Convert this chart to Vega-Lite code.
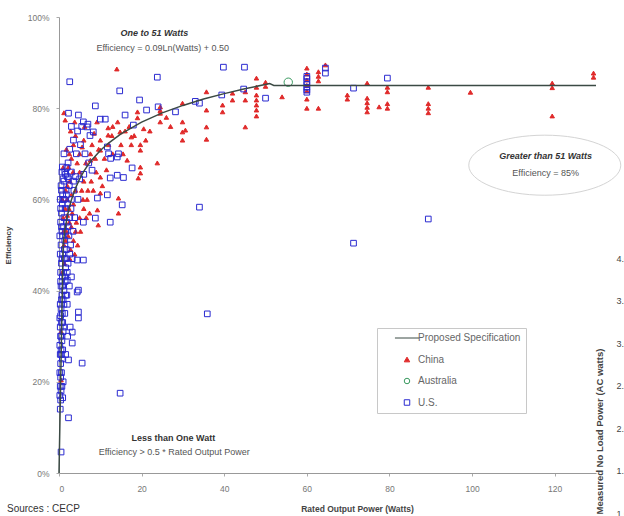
{
"$schema":"https://vega.github.io/schema/vega-lite/v6.json",
"width":537,"height":456,
"autosize":{"type":"none"},
"padding":{"left":59,"top":17,"right":28,"bottom":43},
"background":"white",
"config":{"view":{"stroke":null},"font":"Liberation Sans","axis":{"grid":false},
 "legend":{"title":null,"orient":"none","legendX":318,"legendY":311,"strokeColor":"#c8c8c8","padding":5,"rowPadding":11.5,"symbolSize":30,"symbolOffset":20,"labelOffset":6,"labelFontSize":10,"labelColor":"#666","symbolStrokeWidth":1}},
"title":{"text":"Sources : CECP","orient":"bottom","anchor":"start","frame":"group","dx":-52,"offset":-14,"fontSize":10,"fontWeight":"normal","color":"#333"},
"datasets":{
"spec":[
{"series":"Proposed Specification","power":0,"eff":0},
{"series":"Proposed Specification","power":1,"eff":0.5},
{"series":"Proposed Specification","power":1.25,"eff":0.5201},
{"series":"Proposed Specification","power":1.5,"eff":0.5365},
{"series":"Proposed Specification","power":2,"eff":0.5624},
{"series":"Proposed Specification","power":2.5,"eff":0.5825},
{"series":"Proposed Specification","power":3,"eff":0.5989},
{"series":"Proposed Specification","power":4,"eff":0.6248},
{"series":"Proposed Specification","power":5,"eff":0.6448},
{"series":"Proposed Specification","power":6,"eff":0.6613},
{"series":"Proposed Specification","power":7,"eff":0.6751},
{"series":"Proposed Specification","power":8,"eff":0.6871},
{"series":"Proposed Specification","power":10,"eff":0.7072},
{"series":"Proposed Specification","power":12,"eff":0.7236},
{"series":"Proposed Specification","power":15,"eff":0.7437},
{"series":"Proposed Specification","power":20,"eff":0.7696},
{"series":"Proposed Specification","power":25,"eff":0.7897},
{"series":"Proposed Specification","power":30,"eff":0.8061},
{"series":"Proposed Specification","power":35,"eff":0.82},
{"series":"Proposed Specification","power":40,"eff":0.832},
{"series":"Proposed Specification","power":45,"eff":0.8426},
{"series":"Proposed Specification","power":51,"eff":0.8539},
{"series":"Proposed Specification","power":52,"eff":0.85},
{"series":"Proposed Specification","power":130,"eff":0.85}
],
"pts":[
{"series":"China","power":60,"eff":0.888},{"series":"China","power":60,"eff":0.875},{"series":"China","power":60,"eff":0.862},{"series":"China","power":60,"eff":0.85},{"series":"China","power":60,"eff":0.838},{"series":"China","power":60,"eff":0.82},{"series":"China","power":60,"eff":0.8},
{"series":"China","power":62.8,"eff":0.88},{"series":"China","power":62.8,"eff":0.87},{"series":"China","power":62.8,"eff":0.86},{"series":"China","power":62.8,"eff":0.8},
{"series":"China","power":64.5,"eff":0.895},
{"series":"China","power":69.8,"eff":0.829},{"series":"China","power":69.8,"eff":0.82},
{"series":"China","power":74.6,"eff":0.855},{"series":"China","power":74.6,"eff":0.822},{"series":"China","power":74.6,"eff":0.812},{"series":"China","power":74.6,"eff":0.802},{"series":"China","power":74.6,"eff":0.792},
{"series":"China","power":77.5,"eff":0.803},
{"series":"China","power":79.5,"eff":0.846},{"series":"China","power":79.5,"eff":0.836},{"series":"China","power":79.5,"eff":0.81},{"series":"China","power":79.5,"eff":0.8},
{"series":"China","power":89.4,"eff":0.846},{"series":"China","power":89.4,"eff":0.81},{"series":"China","power":89.4,"eff":0.8},{"series":"China","power":89.4,"eff":0.79},
{"series":"China","power":99.6,"eff":0.835},
{"series":"China","power":119.4,"eff":0.855},{"series":"China","power":119.4,"eff":0.845},{"series":"China","power":119.4,"eff":0.783},
{"series":"China","power":129.4,"eff":0.877},{"series":"China","power":129.4,"eff":0.868},
{"series":"China","power":54,"eff":0.825},
{"series":"China","power":50,"eff":0.857},{"series":"China","power":50,"eff":0.848},
{"series":"China","power":47.8,"eff":0.866},{"series":"China","power":47.8,"eff":0.846},{"series":"China","power":47.8,"eff":0.829},{"series":"China","power":47.8,"eff":0.818},{"series":"China","power":47.8,"eff":0.807},{"series":"China","power":47.8,"eff":0.796},{"series":"China","power":47.8,"eff":0.783},
{"series":"China","power":45.1,"eff":0.836},{"series":"China","power":45.1,"eff":0.818},{"series":"China","power":45.1,"eff":0.759},
{"series":"China","power":42,"eff":0.833},{"series":"China","power":42,"eff":0.818},
{"series":"China","power":39.6,"eff":0.807},{"series":"China","power":39.6,"eff":0.792},
{"series":"China","power":35.7,"eff":0.836},{"series":"China","power":35.7,"eff":0.796},{"series":"China","power":35.7,"eff":0.759},{"series":"China","power":35.7,"eff":0.732},
{"series":"China","power":29.9,"eff":0.811},{"series":"China","power":29.9,"eff":0.77},{"series":"China","power":29.9,"eff":0.748},{"series":"China","power":29.9,"eff":0.73},{"series":"China","power":30.6,"eff":0.752},
{"series":"China","power":24.5,"eff":0.803},{"series":"China","power":24.5,"eff":0.795},{"series":"China","power":24.5,"eff":0.789},{"series":"China","power":24.5,"eff":0.77},
{"series":"China","power":23.8,"eff":0.68},{"series":"China","power":14,"eff":0.886},{"series":"China","power":19,"eff":0.792},{"series":"China","power":19,"eff":0.779},{"series":"China","power":1.5,"eff":0.774},{"series":"China","power":1.2,"eff":0.79},
{"series":"China","power":11.9,"eff":0.757},{"series":"China","power":11.9,"eff":0.741},{"series":"China","power":14.8,"eff":0.748},{"series":"China","power":17.5,"eff":0.737},{"series":"China","power":17.5,"eff":0.72},
{"series":"China","power":3.5,"eff":0.72},{"series":"China","power":5.6,"eff":0.715},{"series":"China","power":10,"eff":0.73},{"series":"China","power":10,"eff":0.708},
{"series":"China","power":19.7,"eff":0.72},{"series":"China","power":19.7,"eff":0.708},{"series":"China","power":19.7,"eff":0.671},{"series":"China","power":19.7,"eff":0.658},
{"series":"China","power":7.6,"eff":0.7},{"series":"China","power":7.6,"eff":0.686},{"series":"China","power":2.3,"eff":0.671},{"series":"China","power":16.5,"eff":0.686},{"series":"China","power":10,"eff":0.649},{"series":"China","power":19.2,"eff":0.647},
{"series":"China","power":9.3,"eff":0.577},{"series":"China","power":14.4,"eff":0.57},{"series":"China","power":14.4,"eff":0.603},{"series":"China","power":10,"eff":0.614},{"series":"China","power":8.3,"eff":0.62},{"series":"China","power":9.5,"eff":0.544},
{"series":"China","power":1.5,"eff":0.58},{"series":"China","power":2,"eff":0.565},{"series":"China","power":2.5,"eff":0.55},{"series":"China","power":3,"eff":0.54},{"series":"China","power":1.8,"eff":0.53},{"series":"China","power":2.2,"eff":0.52},{"series":"China","power":3.5,"eff":0.51},{"series":"China","power":1.2,"eff":0.5},{"series":"China","power":2.8,"eff":0.49},{"series":"China","power":4,"eff":0.53},{"series":"China","power":5,"eff":0.56},{"series":"China","power":4.5,"eff":0.5},{"series":"China","power":1,"eff":0.56},{"series":"China","power":2,"eff":0.6},{"series":"China","power":3,"eff":0.61},{"series":"China","power":6,"eff":0.58},
{"series":"China","power":4,"eff":0.74},{"series":"China","power":6,"eff":0.73},{"series":"China","power":8,"eff":0.72},{"series":"China","power":3,"eff":0.69},{"series":"China","power":5,"eff":0.66},{"series":"China","power":6.5,"eff":0.68},{"series":"China","power":9,"eff":0.66},{"series":"China","power":11,"eff":0.69},{"series":"China","power":12,"eff":0.72},{"series":"China","power":13,"eff":0.7},{"series":"China","power":2,"eff":0.63},{"series":"China","power":4,"eff":0.62},{"series":"China","power":6,"eff":0.64},{"series":"China","power":7,"eff":0.62},{"series":"China","power":10.5,"eff":0.63},{"series":"China","power":1,"eff":0.67},{"series":"China","power":16,"eff":0.75},{"series":"China","power":21,"eff":0.73},{"series":"China","power":22,"eff":0.75},{"series":"China","power":13,"eff":0.76},{"series":"China","power":26,"eff":0.78},{"series":"China","power":27,"eff":0.76},
{"series":"China","power":0.5,"eff":0.31},{"series":"China","power":0.5,"eff":0.204},{"series":"China","power":0.8,"eff":0.44},{"series":"China","power":1.3,"eff":0.46},{"series":"China","power":3.5,"eff":0.59},{"series":"China","power":2.5,"eff":0.7},{"series":"China","power":5,"eff":0.7},{"series":"China","power":8.5,"eff":0.745},{"series":"China","power":15,"eff":0.72},
{"series":"China","power":1.6,"eff":0.62},{"series":"China","power":2.6,"eff":0.64},{"series":"China","power":3.4,"eff":0.66},{"series":"China","power":4.4,"eff":0.68},{"series":"China","power":5.5,"eff":0.62},{"series":"China","power":6.8,"eff":0.6},{"series":"China","power":7.8,"eff":0.64},{"series":"China","power":8.8,"eff":0.69},{"series":"China","power":9.6,"eff":0.71},{"series":"China","power":11.5,"eff":0.665},{"series":"China","power":12.8,"eff":0.74},{"series":"China","power":14.2,"eff":0.77},{"series":"China","power":15.5,"eff":0.7},{"series":"China","power":17,"eff":0.76},{"series":"China","power":18.2,"eff":0.74},{"series":"China","power":20.5,"eff":0.755},{"series":"China","power":2.4,"eff":0.58},{"series":"China","power":3.2,"eff":0.57},{"series":"China","power":4.2,"eff":0.55},{"series":"China","power":5.2,"eff":0.53},{"series":"China","power":1.6,"eff":0.51},{"series":"China","power":2.6,"eff":0.47},{"series":"China","power":3.8,"eff":0.48},{"series":"China","power":5.8,"eff":0.6},{"series":"China","power":6.6,"eff":0.56},{"series":"China","power":7.4,"eff":0.57},{"series":"China","power":2.8,"eff":0.75},{"series":"China","power":3.8,"eff":0.77},{"series":"China","power":6.2,"eff":0.76},{"series":"China","power":9.2,"eff":0.77},{"series":"China","power":1.8,"eff":0.71},{"series":"China","power":0.8,"eff":0.6},{"series":"China","power":1.1,"eff":0.53},
{"series":"Australia","power":55.5,"eff":0.857},
{"series":"U.S.","power":60,"eff":0.87},{"series":"U.S.","power":60,"eff":0.865},{"series":"U.S.","power":60,"eff":0.858},{"series":"U.S.","power":60,"eff":0.852},{"series":"U.S.","power":60,"eff":0.846},{"series":"U.S.","power":60,"eff":0.84},{"series":"U.S.","power":60,"eff":0.835},
{"series":"U.S.","power":64.5,"eff":0.888},{"series":"U.S.","power":64.5,"eff":0.877},{"series":"U.S.","power":71.3,"eff":0.844},{"series":"U.S.","power":79.5,"eff":0.866},{"series":"U.S.","power":71.3,"eff":0.504},{"series":"U.S.","power":89.4,"eff":0.557},
{"series":"U.S.","power":39.8,"eff":0.89},{"series":"U.S.","power":44.9,"eff":0.89},{"series":"U.S.","power":23.8,"eff":0.868},{"series":"U.S.","power":50,"eff":0.822},{"series":"U.S.","power":44.7,"eff":0.842},{"series":"U.S.","power":39.4,"eff":0.829},{"series":"U.S.","power":34,"eff":0.811},{"series":"U.S.","power":33,"eff":0.815},{"series":"U.S.","power":28.2,"eff":0.792},{"series":"U.S.","power":24,"eff":0.803},{"series":"U.S.","power":34,"eff":0.583},{"series":"U.S.","power":35.9,"eff":0.349},{"series":"U.S.","power":14.8,"eff":0.175},
{"series":"U.S.","power":2.6,"eff":0.858},{"series":"U.S.","power":14.7,"eff":0.838},{"series":"U.S.","power":8.8,"eff":0.805},{"series":"U.S.","power":19.5,"eff":0.818},{"series":"U.S.","power":16,"eff":0.785},{"series":"U.S.","power":2.3,"eff":0.789},{"series":"U.S.","power":4.7,"eff":0.785},{"series":"U.S.","power":21.2,"eff":0.796},{"series":"U.S.","power":5.9,"eff":0.77},{"series":"U.S.","power":6.8,"eff":0.759},{"series":"U.S.","power":10,"eff":0.776},{"series":"U.S.","power":11.2,"eff":0.776},{"series":"U.S.","power":18,"eff":0.763},{"series":"U.S.","power":8.3,"eff":0.748},{"series":"U.S.","power":12,"eff":0.7},{"series":"U.S.","power":12.5,"eff":0.69},{"series":"U.S.","power":14.1,"eff":0.693},{"series":"U.S.","power":0.8,"eff":0.671},{"series":"U.S.","power":17.7,"eff":0.669},{"series":"U.S.","power":8,"eff":0.664},{"series":"U.S.","power":12.4,"eff":0.647},{"series":"U.S.","power":14.1,"eff":0.653},{"series":"U.S.","power":15.6,"eff":0.648},{"series":"U.S.","power":11.7,"eff":0.715},{"series":"U.S.","power":14.4,"eff":0.7},
{"series":"U.S.","power":3,"eff":0.66},{"series":"U.S.","power":4,"eff":0.65},{"series":"U.S.","power":5,"eff":0.645},{"series":"U.S.","power":6,"eff":0.655},{"series":"U.S.","power":3.5,"eff":0.64},
{"series":"U.S.","power":12.4,"eff":0.55},{"series":"U.S.","power":8.8,"eff":0.559},{"series":"U.S.","power":15.3,"eff":0.588},{"series":"U.S.","power":11.7,"eff":0.61},{"series":"U.S.","power":9.3,"eff":0.603},{"series":"U.S.","power":5.9,"eff":0.55},{"series":"U.S.","power":5.9,"eff":0.467},{"series":"U.S.","power":4.4,"eff":0.467},{"series":"U.S.","power":4.7,"eff":0.401},{"series":"U.S.","power":2,"eff":0.423},{"series":"U.S.","power":4.4,"eff":0.397},
{"series":"U.S.","power":4.7,"eff":0.353},{"series":"U.S.","power":4.7,"eff":0.34},{"series":"U.S.","power":2.7,"eff":0.32},{"series":"U.S.","power":3.2,"eff":0.309},{"series":"U.S.","power":3.2,"eff":0.285},{"series":"U.S.","power":2.3,"eff":0.248},{"series":"U.S.","power":5.6,"eff":0.241},{"series":"U.S.","power":2.3,"eff":0.121},{"series":"U.S.","power":0.5,"eff":0.046},
{"series":"U.S.","power":0.3,"eff":0.14},{"series":"U.S.","power":0.4,"eff":0.16},{"series":"U.S.","power":0.2,"eff":0.17},{"series":"U.S.","power":0.5,"eff":0.18},{"series":"U.S.","power":0.3,"eff":0.19},{"series":"U.S.","power":0.6,"eff":0.22},{"series":"U.S.","power":0.4,"eff":0.24},{"series":"U.S.","power":0.3,"eff":0.26},{"series":"U.S.","power":0.5,"eff":0.27},{"series":"U.S.","power":0.7,"eff":0.29},{"series":"U.S.","power":0.4,"eff":0.3},{"series":"U.S.","power":0.3,"eff":0.32},{"series":"U.S.","power":0.6,"eff":0.33},{"series":"U.S.","power":0.8,"eff":0.35},{"series":"U.S.","power":0.5,"eff":0.36},{"series":"U.S.","power":0.3,"eff":0.37},{"series":"U.S.","power":1,"eff":0.38},{"series":"U.S.","power":0.7,"eff":0.39},{"series":"U.S.","power":1.2,"eff":0.4},{"series":"U.S.","power":0.5,"eff":0.41},{"series":"U.S.","power":1.5,"eff":0.42},{"series":"U.S.","power":0.8,"eff":0.43},{"series":"U.S.","power":1.1,"eff":0.44},{"series":"U.S.","power":1.6,"eff":0.45},{"series":"U.S.","power":0.6,"eff":0.46},{"series":"U.S.","power":2.2,"eff":0.46},{"series":"U.S.","power":1.3,"eff":0.47},{"series":"U.S.","power":0.9,"eff":0.48},{"series":"U.S.","power":1.8,"eff":0.49},{"series":"U.S.","power":0.5,"eff":0.5},{"series":"U.S.","power":1.4,"eff":0.51},{"series":"U.S.","power":2.4,"eff":0.52},{"series":"U.S.","power":0.7,"eff":0.53},{"series":"U.S.","power":1.1,"eff":0.54},{"series":"U.S.","power":1.9,"eff":0.55},{"series":"U.S.","power":2.6,"eff":0.56},{"series":"U.S.","power":0.6,"eff":0.57},{"series":"U.S.","power":1.5,"eff":0.58},{"series":"U.S.","power":2.1,"eff":0.59},{"series":"U.S.","power":3,"eff":0.6},{"series":"U.S.","power":0.9,"eff":0.61},{"series":"U.S.","power":1.7,"eff":0.62},{"series":"U.S.","power":2.5,"eff":0.63},{"series":"U.S.","power":1.2,"eff":0.64},{"series":"U.S.","power":2,"eff":0.65},{"series":"U.S.","power":0.4,"eff":0.44},{"series":"U.S.","power":0.3,"eff":0.48},{"series":"U.S.","power":0.2,"eff":0.52},{"series":"U.S.","power":0.4,"eff":0.55},{"series":"U.S.","power":2.8,"eff":0.5},{"series":"U.S.","power":3.2,"eff":0.47},{"series":"U.S.","power":3,"eff":0.43},{"series":"U.S.","power":2.5,"eff":0.41},{"series":"U.S.","power":1.9,"eff":0.39},{"series":"U.S.","power":0.2,"eff":0.34},{"series":"U.S.","power":0.2,"eff":0.28},{"series":"U.S.","power":0.2,"eff":0.22},{"series":"U.S.","power":1,"eff":0.2},{"series":"U.S.","power":0.8,"eff":0.25},{"series":"U.S.","power":1,"eff":0.31},{"series":"U.S.","power":1.4,"eff":0.35},{"series":"U.S.","power":2,"eff":0.37},{"series":"U.S.","power":0.6,"eff":0.62},{"series":"U.S.","power":1.4,"eff":0.66},{"series":"U.S.","power":2.2,"eff":0.68},{"series":"U.S.","power":1.2,"eff":0.7},{"series":"U.S.","power":2.6,"eff":0.71},{"series":"U.S.","power":3.5,"eff":0.73},{"series":"U.S.","power":4.5,"eff":0.75},{"series":"U.S.","power":5.5,"eff":0.76},{"series":"U.S.","power":7,"eff":0.765},{"series":"U.S.","power":3,"eff":0.76},{"series":"U.S.","power":7.5,"eff":0.74},{"series":"U.S.","power":1,"eff":0.6},
{"series":"U.S.","power":0.4,"eff":0.58},{"series":"U.S.","power":0.8,"eff":0.59},{"series":"U.S.","power":1.3,"eff":0.6},{"series":"U.S.","power":1.8,"eff":0.61},{"series":"U.S.","power":0.5,"eff":0.63},{"series":"U.S.","power":1,"eff":0.645},{"series":"U.S.","power":1.6,"eff":0.655},{"series":"U.S.","power":2.3,"eff":0.645},{"series":"U.S.","power":0.7,"eff":0.66},{"series":"U.S.","power":1.9,"eff":0.67},{"series":"U.S.","power":0.3,"eff":0.6},{"series":"U.S.","power":0.6,"eff":0.54},{"series":"U.S.","power":1.2,"eff":0.56},{"series":"U.S.","power":1.6,"eff":0.53},{"series":"U.S.","power":2.2,"eff":0.54},{"series":"U.S.","power":0.9,"eff":0.52},{"series":"U.S.","power":1.3,"eff":0.49},{"series":"U.S.","power":0.7,"eff":0.47},{"series":"U.S.","power":1.7,"eff":0.47},{"series":"U.S.","power":2.6,"eff":0.48},{"series":"U.S.","power":0.4,"eff":0.42},{"series":"U.S.","power":0.9,"eff":0.41},{"series":"U.S.","power":1.4,"eff":0.43},{"series":"U.S.","power":2,"eff":0.44},{"series":"U.S.","power":0.6,"eff":0.38},{"series":"U.S.","power":1.2,"eff":0.37},{"series":"U.S.","power":1.6,"eff":0.39},{"series":"U.S.","power":0.4,"eff":0.345},{"series":"U.S.","power":0.9,"eff":0.33},{"series":"U.S.","power":1.2,"eff":0.32},{"series":"U.S.","power":0.5,"eff":0.3},{"series":"U.S.","power":0.9,"eff":0.27},{"series":"U.S.","power":0.6,"eff":0.26},{"series":"U.S.","power":0.4,"eff":0.21},{"series":"U.S.","power":0.7,"eff":0.19},{"series":"U.S.","power":0.9,"eff":0.165},{"series":"U.S.","power":1.6,"eff":0.26},{"series":"U.S.","power":2.1,"eff":0.3},{"series":"U.S.","power":3.6,"eff":0.62},{"series":"U.S.","power":4.6,"eff":0.6},{"series":"U.S.","power":3.8,"eff":0.56},{"series":"U.S.","power":2.9,"eff":0.58},{"series":"U.S.","power":3.4,"eff":0.53},{"series":"U.S.","power":4.2,"eff":0.7},{"series":"U.S.","power":5.2,"eff":0.72},{"series":"U.S.","power":6.3,"eff":0.7},{"series":"U.S.","power":7.2,"eff":0.68}
]
},
"layer":[
{"layer":[
{"data":{"name":"pts"},
 "mark":{"type":"point","strokeWidth":1,"opacity":1},
 "encoding":{
  "x":{"field":"power","type":"quantitative","scale":{"domain":[0,130],"nice":false},
   "axis":{"values":[0,20,40,60,80,100,120],"title":"Rated Output Power (Watts)","titleX":298,"titleY":35,"titleBaseline":"middle","titleAlign":"center","titleFontSize":8.5,"titleFontWeight":"bold","titleColor":"#444","labelFontSize":8.5,"labelColor":"#777","labelPadding":8,"tickSize":3,"tickColor":"#aaa","domainColor":"#999","grid":false}},
  "y":{"field":"eff","type":"quantitative","scale":{"domain":[0,1],"nice":false},
   "axis":{"values":[0,0.2,0.4,0.6,0.8,1],"format":".0%","title":"Efficiency","titleX":-51,"titleY":228,"titleAngle":270,"titleAlign":"center","titleBaseline":"middle","titleFontSize":8,"titleFontWeight":"bold","titleColor":"#444","labelFontSize":8.5,"labelColor":"#777","labelPadding":7,"tickSize":3,"tickColor":"#aaa","domainColor":"#999","grid":false}},
  "stroke":{"field":"series","type":"nominal",
   "scale":{"domain":["Proposed Specification","China","Australia","U.S."],"range":["#3b4a44","#e02a2a","#3a9a60","#2a2ad0"]}},
  "fill":{"field":"series","type":"nominal",
   "scale":{"domain":["Proposed Specification","China","Australia","U.S."],"range":["transparent","#e02a2a","transparent","transparent"]}},
  "shape":{"field":"series","type":"nominal",
   "scale":{"domain":["Proposed Specification","China","Australia","U.S."],"range":["M -4.4 0 L 4.4 0","triangle-up","circle","square"]}},
  "size":{"condition":[{"test":"datum.series === 'China'","value":20},{"test":"datum.series === 'Australia'","value":70}],"value":32}
 }},
{"data":{"name":"spec"},
 "mark":{"type":"line","strokeWidth":1.5},
 "encoding":{
  "x":{"field":"power","type":"quantitative"},
  "y":{"field":"eff","type":"quantitative"},
  "stroke":{"field":"series","type":"nominal"}
 }},
{"data":{"values":[{"k":1}]},
 "mark":{"type":"point","shape":"M -1 0 A 1 0.395 0 1 0 1 0 A 1 0.395 0 1 0 -1 0 Z","size":23104,"filled":false,"stroke":"#d4d4d4","strokeWidth":1,"opacity":1},
 "encoding":{"x":{"datum":117.6,"type":"quantitative"},"y":{"datum":0.675,"type":"quantitative"}}},
{"data":{"values":[{"t":"One to 51 Watts"}]},
 "mark":{"type":"text","fontSize":9,"fontWeight":"bold","fontStyle":"italic","fill":"#333","align":"center","baseline":"middle"},
 "encoding":{"x":{"datum":23.1,"type":"quantitative"},"y":{"datum":0.965,"type":"quantitative"},"text":{"field":"t"}}},
{"data":{"values":[{"t":"Efficiency = 0.09Ln(Watts) + 0.50"}]},
 "mark":{"type":"text","fontSize":9,"fill":"#555","align":"center","baseline":"middle"},
 "encoding":{"x":{"datum":25.1,"type":"quantitative"},"y":{"datum":0.932,"type":"quantitative"},"text":{"field":"t"}}},
{"data":{"values":[{"t":"Greater than 51 Watts"}]},
 "mark":{"type":"text","fontSize":9,"fontWeight":"bold","fontStyle":"italic","fill":"#333","align":"center","baseline":"middle"},
 "encoding":{"x":{"datum":117.8,"type":"quantitative"},"y":{"datum":0.695,"type":"quantitative"},"text":{"field":"t"}}},
{"data":{"values":[{"t":"Efficiency = 85%"}]},
 "mark":{"type":"text","fontSize":9,"fill":"#555","align":"center","baseline":"middle"},
 "encoding":{"x":{"datum":117.8,"type":"quantitative"},"y":{"datum":0.658,"type":"quantitative"},"text":{"field":"t"}}},
{"data":{"values":[{"t":"Less than One Watt"}]},
 "mark":{"type":"text","fontSize":9,"fontWeight":"bold","fill":"#333","align":"center","baseline":"middle"},
 "encoding":{"x":{"datum":27.7,"type":"quantitative"},"y":{"datum":0.077,"type":"quantitative"},"text":{"field":"t"}}},
{"data":{"values":[{"t":"Efficiency > 0.5 * Rated Output Power"}]},
 "mark":{"type":"text","fontSize":9,"fill":"#555","align":"center","baseline":"middle"},
 "encoding":{"x":{"datum":27.9,"type":"quantitative"},"y":{"datum":0.046,"type":"quantitative"},"text":{"field":"t"}}}
]},
{"data":{"values":[{"nl":1},{"nl":4}]},
 "mark":{"type":"point","opacity":0},
 "encoding":{"y":{"field":"nl","type":"quantitative","scale":{"domain":[1,6.365],"nice":false,"zero":false},
  "axis":{"orient":"right","values":[1,1.5,2,2.5,3,3.5,4],"format":".1f","labelOffset":40,"labelPadding":20,"ticks":false,"domain":false,"grid":false,"labelAlign":"left","labelFontSize":9,"labelColor":"#444","title":"Measured No Load Power (AC watts)","titleAngle":270,"titleX":3.5,"titleY":414,"titleAlign":"center","titleBaseline":"middle","titleFontSize":9.5,"titleFontWeight":"bold","titleColor":"#444"}}}}
],
"resolve":{"scale":{"y":"independent"}}
}
